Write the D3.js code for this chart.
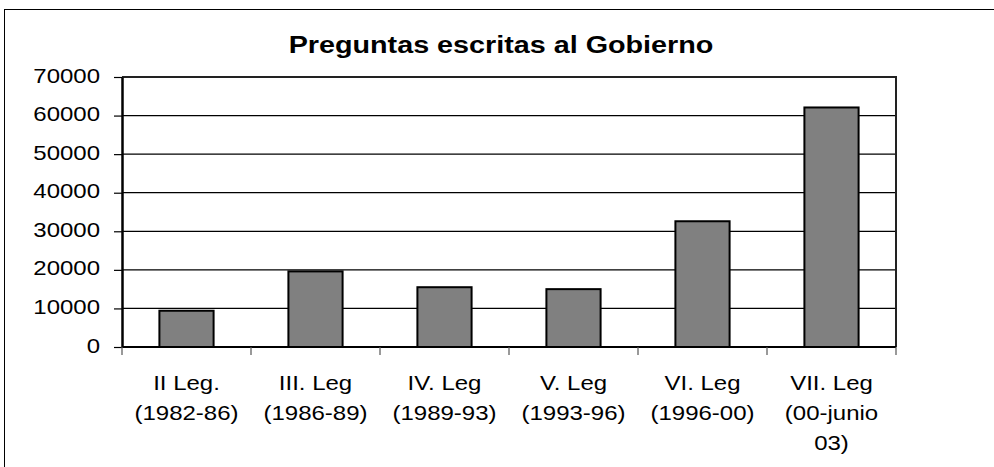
<!DOCTYPE html>
<html>
<head>
<meta charset="utf-8">
<script src="https://cdn.jsdelivr.net/npm/d3@7"></script>
<style>
  body { margin: 0; background: #fff; }
  svg { display: block; font-family: "Liberation Sans", Arial, sans-serif; }
</style>
</head>
<body>
<div id="chart"></div>
<script>
var width = 994;
var height = 467;

var categories = [
  ["II Leg.", "(1982-86)"],
  ["III. Leg", "(1986-89)"],
  ["IV. Leg", "(1989-93)"],
  ["V. Leg", "(1993-96)"],
  ["VI. Leg", "(1996-00)"],
  ["VII. Leg", "(00-junio", "03)"]
];
var values = [9400, 19600, 15500, 15000, 32600, 62100];
var yTicks = [0, 10000, 20000, 30000, 40000, 50000, 60000, 70000];
var title = "Preguntas escritas al Gobierno";

var plotLeft = 122, plotRight = 896, plotTop = 77, plotBottom = 347;
var stretch = 1.2;

var svg = d3
  .select("#chart")
  .append("svg")
  .attr("width", width)
  .attr("height", height);

// outer frame
svg
  .append("rect")
  .attr("x", 4.5)
  .attr("y", 9.5)
  .attr("width", 1000)
  .attr("height", 500)
  .attr("fill", "none")
  .attr("stroke", "#000")
  .attr("stroke-width", 1);

var keys = categories.map(function (d, i) {
  return "c" + i;
});

var xScale = d3.scaleBand().domain(keys).range([plotLeft, plotRight]).padding(0);

var yScale = d3.scaleLinear().domain([0, 70000]).range([plotBottom, plotTop]);

// gridlines
svg
  .selectAll("line.grid")
  .data(yTicks.slice(1))
  .enter()
  .append("line")
  .attr("class", "grid")
  .attr("x1", plotLeft)
  .attr("x2", plotRight)
  .attr("y1", function (d) {
    return yScale(d);
  })
  .attr("y2", function (d) {
    return yScale(d);
  })
  .attr("stroke", "#000")
  .attr("stroke-width", 1.2);

// plot border (top and right)
svg
  .append("path")
  .attr("d", "M" + plotLeft + "," + plotTop + "H" + plotRight + "V" + plotBottom)
  .attr("fill", "none")
  .attr("stroke", "#222")
  .attr("stroke-width", 2);

// bars
var barWidth = xScale.bandwidth() * 0.42;
svg
  .selectAll("rect.bar")
  .data(values)
  .enter()
  .append("rect")
  .attr("class", "bar")
  .attr("x", function (d, i) {
    return xScale(keys[i]) + (xScale.bandwidth() - barWidth) / 2;
  })
  .attr("y", function (d) {
    return yScale(d);
  })
  .attr("width", barWidth)
  .attr("height", function (d) {
    return plotBottom - yScale(d);
  })
  .attr("fill", "#808080")
  .attr("stroke", "#000")
  .attr("stroke-width", 2);

// y axis
var yAxis = d3.axisLeft(yScale).tickValues(yTicks).tickSize(8).tickSizeOuter(0).tickFormat(d3.format("d"));
var gy = svg
  .append("g")
  .attr("transform", "translate(" + plotLeft + ",0)")
  .call(yAxis);
gy.select(".domain").attr("stroke", "#000").attr("stroke-width", 2.5);
gy.selectAll(".tick line").attr("stroke", "#000").attr("stroke-width", 1.2);
gy.selectAll(".tick text")
  .attr("font-size", "20px")
  .attr("fill", "#000")
  .attr("font-family", "'Liberation Sans', Arial, sans-serif")
  .attr("x", -22 / stretch)
  .attr("dy", null)
  .attr("y", 5)
  .attr("transform", "scale(" + stretch + ",1)");

// x axis: ticks between categories
var boundaries = keys.map(function (k) {
  return xScale(k);
});
boundaries.push(plotRight);
svg
  .append("line")
  .attr("x1", plotLeft)
  .attr("x2", plotRight)
  .attr("y1", plotBottom)
  .attr("y2", plotBottom)
  .attr("stroke", "#000")
  .attr("stroke-width", 2);
svg
  .selectAll("line.xtick")
  .data(boundaries)
  .enter()
  .append("line")
  .attr("class", "xtick")
  .attr("x1", function (d) {
    return d;
  })
  .attr("x2", function (d) {
    return d;
  })
  .attr("y1", plotBottom)
  .attr("y2", plotBottom + 8)
  .attr("stroke", "#555")
  .attr("stroke-width", 1.2);

// category labels
var labels = svg
  .selectAll("g.xlabel")
  .data(categories)
  .enter()
  .append("g")
  .attr("class", "xlabel")
  .attr("transform", function (d, i) {
    return (
      "translate(" + (xScale(keys[i]) + xScale.bandwidth() / 2) + ",0) scale(" + stretch + ",1)"
    );
  });
labels
  .selectAll("text")
  .data(function (d) {
    return d;
  })
  .enter()
  .append("text")
  .attr("x", 0)
  .attr("y", function (d, j) {
    return 390 + j * 30;
  })
  .attr("text-anchor", "middle")
  .attr("font-size", "20px")
  .attr("fill", "#000")
  .text(function (d) {
    return d;
  });

// title
svg
  .append("g")
  .attr("transform", "translate(501,0) scale(1.25,1)")
  .append("text")
  .attr("x", 0)
  .attr("y", 53)
  .attr("text-anchor", "middle")
  .attr("font-size", "23px")
  .attr("font-weight", "bold")
  .attr("fill", "#000")
  .text(title);
</script>
</body>
</html>
